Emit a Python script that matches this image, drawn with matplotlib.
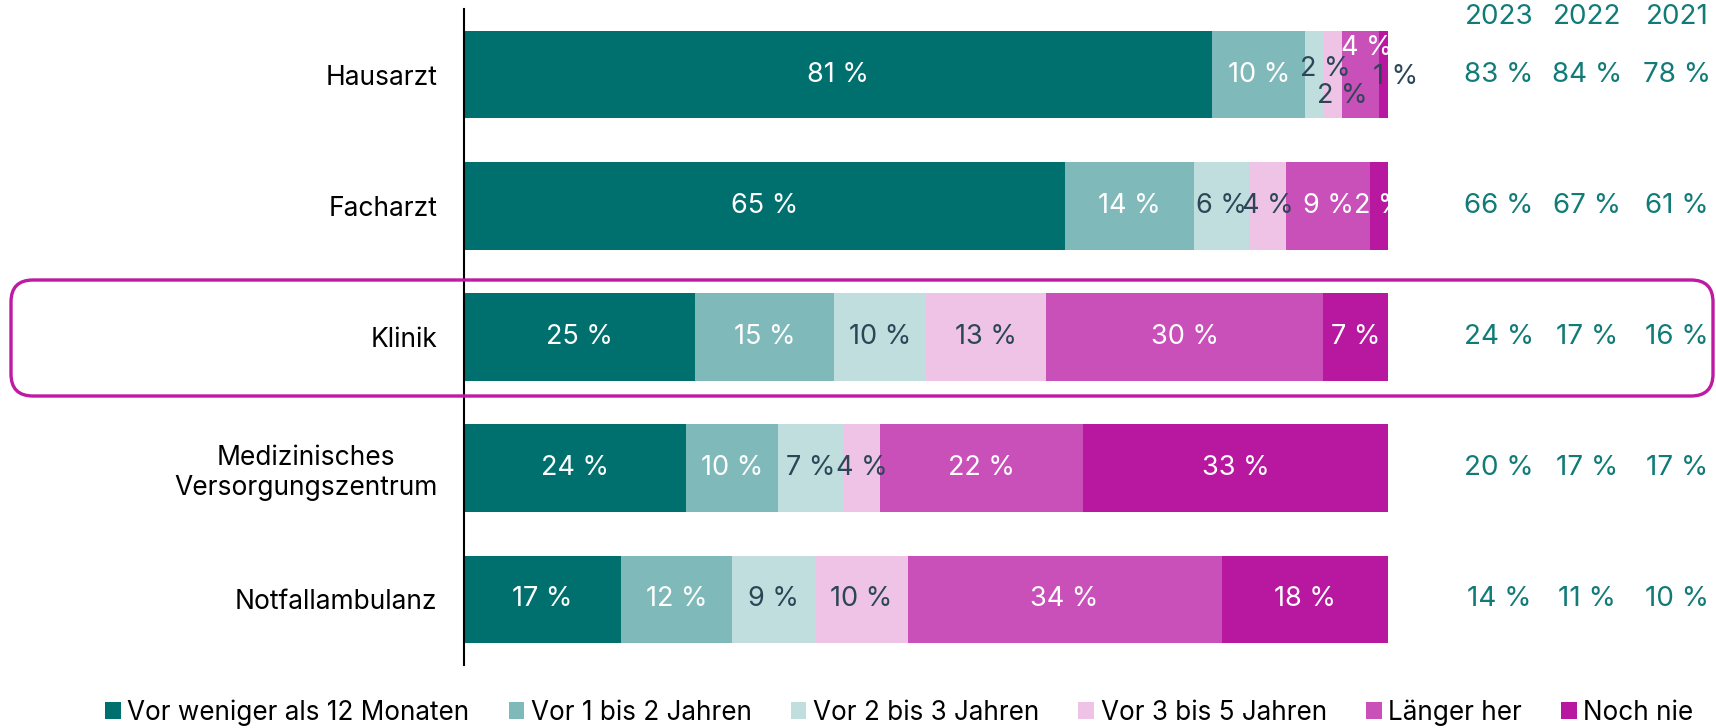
import matplotlib
matplotlib.use("Agg")
import matplotlib.pyplot as plt
from matplotlib.patches import FancyBboxPatch
import numpy as np

plt.rcParams["font.family"] = ["Inter", "DejaVu Sans"]

# ============================================================
categories = ["Hausarzt", "Facharzt", "Klinik",
              "Medizinisches\nVersorgungszentrum", "Notfallambulanz"]
series = ["Vor weniger als 12 Monaten", "Vor 1 bis 2 Jahren", "Vor 2 bis 3 Jahren",
          "Vor 3 bis 5 Jahren", "Länger her", "Noch nie"]
values = np.array([
    [81, 10, 2, 2, 4, 1],
    [65, 14, 6, 4, 9, 2],
    [25, 15, 10, 13, 30, 7],
    [24, 10, 7, 4, 22, 33],
    [17, 12, 9, 10, 34, 18],
])
years = ["2023", "2022", "2021"]
trend = [
    [83, 84, 78],
    [66, 67, 61],
    [24, 17, 16],
    [20, 17, 17],
    [14, 11, 10],
]

colors = ["#00706f", "#80b9ba", "#bfdedd", "#efc3e6", "#c94fb9", "#b8179f"]
text_colors = ["white", "white", "#2b4656", "#2b4656", "white", "white"]
teal_text = "#117b77"

# manual label offsets (points) for the crowded Hausarzt bar
offsets = {(0, 2): (8, 4), (0, 3): (7, -15.5), (0, 4): (5, 19), (0, 5): (8.5, -1.5)}
offset_colors = {(0, 4): "white", (0, 5): "#2b4656"}

fig = plt.figure(figsize=(17.16, 7.28), dpi=100)
ax = fig.add_axes([464 / 1716, 63 / 728, 924 / 1716, 656 / 728])

y = np.arange(len(categories))
left = np.zeros(len(categories))
for j, name in enumerate(series):
    ax.barh(y, values[:, j], left=left, height=0.667, color=colors[j],
            label=name, edgecolor="none")
    for i in range(len(categories)):
        cx = left[i] + values[i, j] / 2
        dx, dy = offsets.get((i, j), (0, 0))
        col = offset_colors.get((i, j), text_colors[j])
        ax.annotate(f"{values[i, j]} %", (cx, y[i]), xytext=(dx, dy),
                    textcoords="offset points", ha="center", va="center",
                    fontsize=19.5, color=col, annotation_clip=False)
    left += values[:, j]

ax.set_xlim(0, 100)
ax.set_ylim(4.5, -0.5)
ax.set_yticks(y)
ax.set_yticklabels(categories, fontsize=19)
for lbl in ax.get_yticklabels():
    lbl.set_multialignment("center")
ax.tick_params(axis="y", length=0, pad=19)
ax.set_xticks([])
for s in ["top", "right", "bottom"]:
    ax.spines[s].set_visible(False)
ax.spines["left"].set_linewidth(1.5)
ax.spines["left"].set_color("black")

# trend columns on the right
col_x = [112.0, 121.5, 131.3]
for k, yr in enumerate(years):
    ax.text(col_x[k], -0.44, yr, ha="center", va="center", fontsize=20,
            color=teal_text, clip_on=False)
    for i in range(len(categories)):
        ax.text(col_x[k], y[i], f"{trend[i][k]} %", ha="center", va="center",
                fontsize=20, color=teal_text, clip_on=False)

# highlight box around Klinik
box = FancyBboxPatch((0.11, 3.32), 17.02, 1.16,
                     boxstyle="round,pad=0,rounding_size=0.22",
                     transform=fig.dpi_scale_trans, fill=False,
                     edgecolor="#be1aa4", linewidth=2.4)
fig.patches.append(box)

fig.legend(loc="center", bbox_to_anchor=(0.524, 0.021), ncol=6, frameon=False,
           fontsize=18.8, handlelength=0.6, handleheight=0.6, handletextpad=0.25,
           columnspacing=1.5)

fig.savefig("out.png", dpi=100)
